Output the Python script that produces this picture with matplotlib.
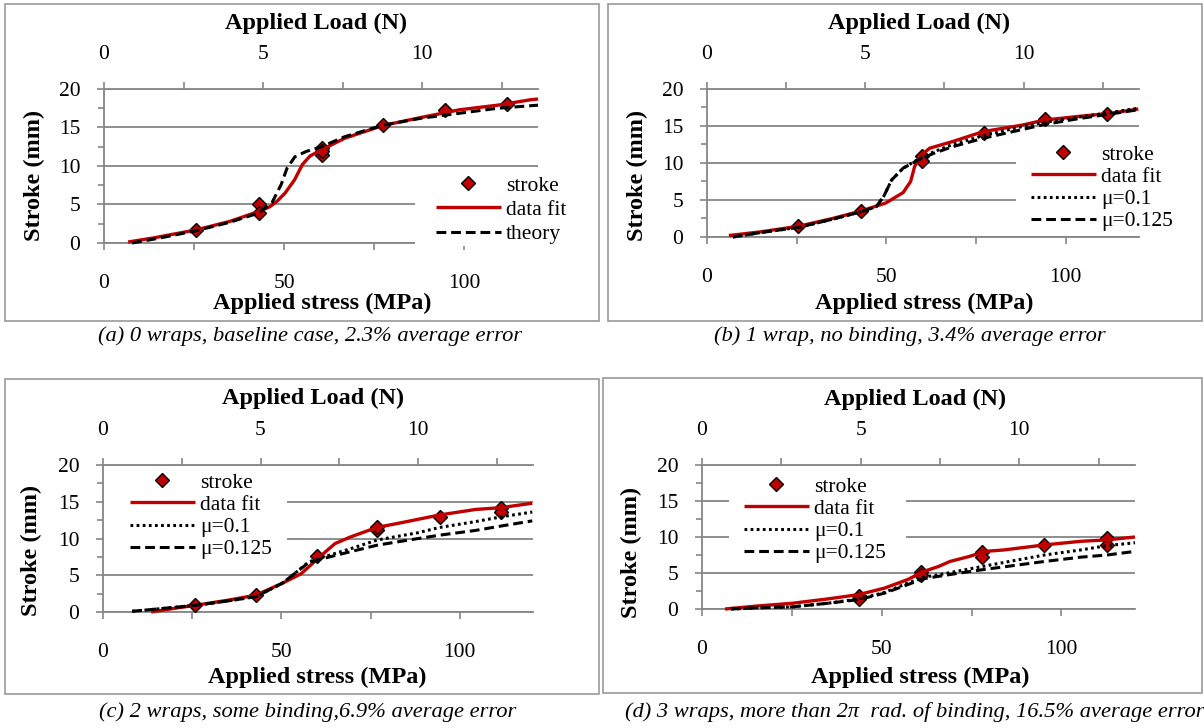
import matplotlib
matplotlib.use("Agg")
import matplotlib.pyplot as plt
from matplotlib.patches import Rectangle
from matplotlib.lines import Line2D
from matplotlib.ticker import MultipleLocator, FixedLocator

plt.rcParams['font.family'] = ['Liberation Serif', 'DejaVu Serif']

W, H = 1204, 728
RED = '#C00000'
GRAY = '#868686'
MPA_PER_N = 8.83   # top axis: applied load (N) -> stress (MPa)
XMAX = 120.5

# ---- (a) 0 wraps ----
a_pts_x = [25.6, 43.0, 43.0, 60.4, 60.4, 60.6, 77.4, 94.6, 112.0]
a_pts_y = [1.7, 5.0, 3.9, 12.4, 11.4, 12.0, 15.3, 17.3, 18.0]
a_fit_x = [6.7, 13.6, 25.6, 34.9, 43.0, 46.0, 48.0, 50.3, 52.9, 55.1, 57.2, 60.4, 66.8, 77.4, 88.0, 98.7, 109.3, 118.4, 120.5]
a_fit_y = [0.13, 0.65, 1.7, 2.8, 4.1, 4.7, 5.4, 6.5, 8.2, 10.2, 11.3, 12.1, 13.6, 15.25, 16.3, 17.3, 17.9, 18.6, 18.7]
a_th_x = [7.8, 15.0, 25.6, 35.0, 43.0, 46.6, 49.2, 50.8, 53.0, 56.2, 60.4, 66.8, 77.4, 88.0, 98.7, 109.3, 120.5]
a_th_y = [0.0, 0.6, 1.6, 2.7, 3.9, 5.2, 7.6, 9.7, 11.2, 11.9, 12.5, 13.8, 15.3, 16.2, 16.85, 17.5, 17.9]

# ---- (b) 1 wrap ----
b_pts_x = [25.5, 42.9, 60.0, 60.0, 77.3, 94.3, 111.7]
b_pts_y = [1.5, 3.5, 10.9, 10.3, 14.1, 16.0, 16.6]
b_fit_x = [6.1, 15.0, 25.5, 35.0, 42.9, 49.9, 54.7, 56.8, 57.9, 59.4, 62.1, 68.5, 77.1, 87.7, 94.1, 103.7, 112.3, 120.3]
b_fit_y = [0.2, 0.7, 1.45, 2.5, 3.5, 4.6, 6.0, 7.5, 9.5, 10.9, 12.0, 12.9, 14.25, 15.1, 15.8, 16.3, 16.7, 17.3]
b_mu_x = [7.2, 15.0, 25.5, 35.0, 42.9, 47.2, 49.3, 51.5, 54.7, 58.9, 63.2, 68.5, 77.1, 87.7, 94.1, 103.7, 112.3, 120.3]
b_mu10_y = [0.0, 0.6, 1.3, 2.4, 3.4, 4.1, 5.5, 7.7, 9.3, 10.5, 11.5, 12.5, 13.7, 14.9, 15.5, 16.2, 16.8, 17.4]
b_mu125_y = [0.0, 0.6, 1.3, 2.4, 3.4, 4.1, 5.5, 7.7, 9.3, 10.4, 11.3, 12.2, 13.35, 14.5, 15.2, 16.0, 16.6, 17.2]

# ---- (c) 2 wraps ----
c_pts_x = [25.7, 42.9, 60.0, 76.9, 76.9, 94.3, 111.6, 111.6]
c_pts_y = [0.9, 2.3, 7.6, 11.2, 11.6, 12.95, 14.2, 13.6]
c_fit_x = [13.5, 20.0, 25.7, 35.0, 42.9, 50.2, 55.5, 58.7, 61.9, 65.0, 69.3, 76.7, 83.1, 94.3, 104.4, 111.6, 120.3]
c_fit_y = [0.0, 0.5, 0.9, 1.6, 2.3, 3.9, 5.2, 6.6, 8.0, 9.3, 10.2, 11.5, 12.1, 13.2, 13.95, 14.2, 14.8]
c_mu_x = [8.2, 15.0, 25.7, 35.0, 42.9, 50.2, 54.4, 57.6, 61.9, 69.3, 76.9, 88.4, 94.3, 104.4, 111.6, 120.3]
c_mu10_y = [0.1, 0.4, 0.9, 1.5, 2.1, 3.9, 5.5, 6.8, 7.5, 8.6, 9.8, 10.8, 11.5, 12.3, 12.95, 13.6]
c_mu125_y = [0.1, 0.4, 0.9, 1.5, 2.1, 3.9, 5.5, 6.7, 7.3, 8.2, 9.1, 10.0, 10.45, 11.1, 11.7, 12.4]

# ---- (d) 3 wraps ----
d_pts_x = [43.6, 43.6, 61.0, 61.0, 77.9, 77.9, 95.3, 112.7, 112.7]
d_pts_y = [1.85, 1.4, 5.1, 4.75, 7.85, 7.2, 8.9, 9.85, 8.9]
d_fit_x = [6.4, 15.0, 25.2, 35.0, 43.6, 50.8, 57.3, 61.6, 65.8, 69.0, 74.4, 78.7, 84.0, 95.3, 105.4, 112.7, 120.5]
d_fit_y = [0.0, 0.4, 0.8, 1.4, 2.0, 2.9, 4.1, 5.2, 5.9, 6.6, 7.3, 8.0, 8.2, 8.9, 9.4, 9.6, 10.0]
d_mu_x = [8.1, 15.0, 25.2, 35.0, 43.6, 50.8, 57.3, 61.6, 68.5, 77.9, 95.3, 105.4, 112.7, 120.5]
d_mu10_y = [0.0, 0.15, 0.3, 0.8, 1.4, 2.3, 3.6, 4.4, 5.0, 5.9, 7.5, 8.2, 8.8, 9.2]
d_mu125_y = [0.0, 0.15, 0.3, 0.8, 1.3, 2.2, 3.4, 4.2, 4.75, 5.45, 6.6, 7.2, 7.5, 8.0]

load_ticks = [0, 5, 10]
load_minor = [2.5, 7.5, 12.5]

captions = [
    "(a) 0 wraps, baseline case, 2.3% average error",
    "(b) 1 wrap, no binding, 3.4% average error",
    "(c) 2 wraps, some binding,6.9% average error",
    "(d) 3 wraps, more than 2\u03c0\u2002rad. of binding, 16.5% average error",
]

fig = plt.figure(figsize=(W / 100, H / 100), dpi=100)

TICK_FS = 15.5
TITLE_FS = 17.5
CAP_FS = 16.2


def fx(px):
    return px / W


def fy(py):
    return 1 - py / H


def prect(l, t, r, b):
    return (fx(l), fy(b)), (r - l) / W, (b - t) / H


def panel(frame, box, titles_at, pts, curves, leg_at, leg_sp, cover, cap, cap_at, cap_ha='center'):
    # grey frame around the panel
    xy, w, h = prect(*frame)
    fig.patches.append(Rectangle(xy, w, h, transform=fig.transFigure, fill=False,
                                 edgecolor='#9A9A9A', lw=1.2))
    l, t, r, b = box
    ax = fig.add_axes([fx(l), fy(b), (r - l) / W, (b - t) / H])
    ax.set_xlim(0, XMAX)
    ax.set_ylim(0, 20)
    ax.xaxis.set_major_locator(MultipleLocator(50))
    ax.xaxis.set_minor_locator(MultipleLocator(25))
    ax.yaxis.set_major_locator(MultipleLocator(5))
    ax.yaxis.set_minor_locator(MultipleLocator(2.5))
    ax.grid(axis='y', color=GRAY, lw=1.3)
    ax.set_axisbelow(True)
    for s in ['right', 'top']:
        ax.spines[s].set_visible(False)
    for s in ['left', 'bottom']:
        ax.spines[s].set_color(GRAY)
        ax.spines[s].set_linewidth(1.3)
    ax.tick_params(axis='x', which='both', direction='out', color=GRAY, width=1.2,
                   length=5, labelsize=TICK_FS, pad=17)
    ax.tick_params(axis='y', which='both', direction='out', color=GRAY, width=1.2,
                   length=5, labelsize=TICK_FS, pad=12)
    ax.tick_params(axis='y', which='minor', length=4)

    top = ax.secondary_xaxis('top', functions=(lambda s: s / MPA_PER_N, lambda f: f * MPA_PER_N))
    top.xaxis.set_major_locator(FixedLocator(load_ticks))
    top.xaxis.set_minor_locator(FixedLocator(load_minor))
    top.spines['top'].set_color(GRAY)
    top.spines['top'].set_linewidth(1.3)
    top.tick_params(which='both', direction='out', color=GRAY, width=1.2, length=5,
                    labelsize=TICK_FS, pad=13)

    # white legend background hiding the gridlines behind it
    cxy, cw, ch = prect(*cover)
    ax.add_patch(Rectangle(cxy, cw, ch, transform=fig.transFigure, facecolor='white',
                           edgecolor='none', zorder=2.6, clip_on=False))

    ax.plot(pts[0], pts[1], ls='none', marker='D', ms=7, mfc=RED, mec='black',
            mew=1.0, zorder=3, clip_on=False)
    handles = [Line2D([], [], ls='none', marker='D', ms=7, mfc=RED, mec='black', mew=1.0)]
    labels = ['stroke']
    for xs, ys, style, lab in curves:
        if style == 'fit':
            kw = dict(color=RED, lw=2.4, solid_capstyle='butt')
        elif style == 'dot':
            kw = dict(color='black', lw=2.2, ls=(0, (0.9, 1.1)))
        else:
            kw = dict(color='black', lw=2.2, ls=(0, (3.2, 1.6)))
        ax.plot(xs, ys, zorder=4, clip_on=False, **kw)
        handles.append(Line2D([], [], **kw))
        labels.append(lab)

    hx, cy = leg_at
    leg = ax.legend(handles, labels, loc='center left', bbox_to_anchor=(fx(hx), fy(cy)),
                    bbox_transform=fig.transFigure, borderaxespad=0, borderpad=0,
                    frameon=False, fontsize=TICK_FS, handlelength=3.0,
                    handletextpad=0.25, labelspacing=leg_sp, numpoints=1)
    leg.set_zorder(5)

    (tx, ty), (bx, by), (yx, yy) = titles_at
    fig.text(fx(tx), fy(ty), "Applied Load (N)", ha='center', va='center',
             fontsize=TITLE_FS, fontweight='bold')
    fig.text(fx(bx), fy(by), "Applied stress (MPa)", ha='center', va='center',
             fontsize=TITLE_FS, fontweight='bold')
    fig.text(fx(yx), fy(yy), "Stroke (mm)", ha='center', va='center', rotation=90,
             fontsize=TITLE_FS, fontweight='bold')
    fig.text(fx(cap_at[0]), fy(cap_at[1]), cap, ha=cap_ha, va='center',
             fontsize=CAP_FS, style='italic')
    return ax


panel((5, 4, 599, 321), (104, 89, 538, 243),
      ((316, 23), (322, 303), (34, 175)),
      (a_pts_x, a_pts_y),
      [(a_fit_x, a_fit_y, 'fit', 'data fit'),
       (a_th_x, a_th_y, 'dash', 'theory')],
      (436, 210), 0.2, (415, 172, 540, 246), captions[0], (310, 336))

panel((608, 4, 1202, 321), (707, 89, 1139, 237),
      ((919, 23), (924, 303), (637, 175)),
      (b_pts_x, b_pts_y),
      [(b_fit_x, b_fit_y, 'fit', 'data fit'),
       (b_mu_x, b_mu10_y, 'dot', '\u03bc=0.1'),
       (b_mu_x, b_mu125_y, 'dash', '\u03bc=0.125')],
      (1031, 188), 0.1, (1016, 140, 1141, 232), captions[1], (910, 336))

panel((5, 379, 599, 694), (103, 465, 533, 612),
      ((313, 398), (317, 677), (31, 550)),
      (c_pts_x, c_pts_y),
      [(c_fit_x, c_fit_y, 'fit', 'data fit'),
       (c_mu_x, c_mu10_y, 'dot', '\u03bc=0.1'),
       (c_mu_x, c_mu125_y, 'dash', '\u03bc=0.125')],
      (130, 516), 0.1, (104, 475, 287, 560), captions[2], (308, 712))

panel((603, 378, 1202, 693), (702, 465, 1135, 609),
      ((915, 399), (920, 677), (631, 552)),
      (d_pts_x, d_pts_y),
      [(d_fit_x, d_fit_y, 'fit', 'data fit'),
       (d_mu_x, d_mu10_y, 'dot', '\u03bc=0.1'),
       (d_mu_x, d_mu125_y, 'dash', '\u03bc=0.125')],
      (744, 520), 0.1, (729, 478, 906, 562), captions[3], (625, 712), cap_ha='left')

fig.savefig('out.png', dpi=100)
